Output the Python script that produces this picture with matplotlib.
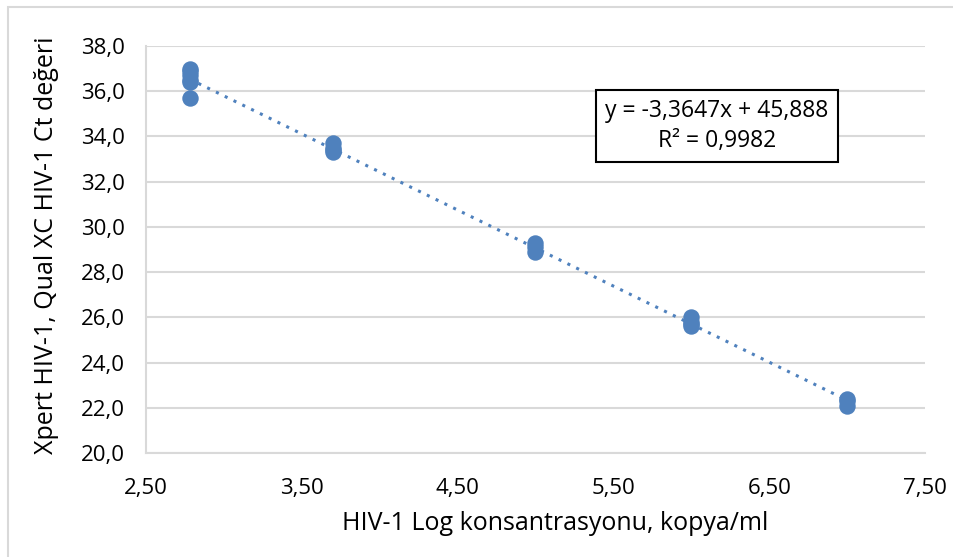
import matplotlib.pyplot as plt
from matplotlib.patches import Rectangle
from matplotlib.ticker import FuncFormatter, MultipleLocator

plt.rcParams['font.family'] = ['Open Sans', 'DejaVu Sans']

# log concentration levels and the Ct values read at each level
log_conc = [2.78] * 6 + [3.70] * 4 + [5.00] * 3 + [6.00] * 4 + [7.00] * 3
ct_values = [37.0, 36.9, 36.7, 36.5, 36.4, 35.7,
             33.7, 33.5, 33.4, 33.3,
             29.3, 29.1, 28.9,
             26.0, 25.8, 25.7, 25.6,
             22.4, 22.3, 22.1]
x_ticks = [2.5, 3.5, 4.5, 5.5, 6.5, 7.5]

slope = -3.3647
intercept = 45.888
r_squared = 0.9982

blue = '#4f81bd'
grid_gray = '#d9d9d9'

fig = plt.figure(figsize=(9.54, 5.57), dpi=100)
ax = fig.add_axes([146 / 954, 1 - 453 / 557, (925 - 146) / 954, (453 - 46) / 557])

# trendline over the data range
x0, x1 = min(log_conc), max(log_conc)
ax.plot([x0, x1], [slope * x0 + intercept, slope * x1 + intercept],
        color=blue, linestyle=(0, (1, 2.2)), linewidth=2.2, zorder=2)
ax.scatter(log_conc, ct_values, s=140, color=blue, zorder=3, linewidths=0)

ax.set_xlim(2.5, 7.5)
ax.set_ylim(20, 38)
ax.set_xticks(x_ticks)
ax.yaxis.set_major_locator(MultipleLocator(2.0))
ax.xaxis.set_major_formatter(FuncFormatter(lambda v, p: f"{v:.2f}".replace('.', ',')))
ax.yaxis.set_major_formatter(FuncFormatter(lambda v, p: f"{v:.1f}".replace('.', ',')))

ax.grid(axis='y', color=grid_gray, linewidth=1.5)
ax.set_axisbelow(True)
for side in ['top', 'right']:
    ax.spines[side].set_visible(False)
for side in ['left', 'bottom']:
    ax.spines[side].set_color(grid_gray)
    ax.spines[side].set_linewidth(1.5)
ax.tick_params(length=0, labelsize=16, colors='black')
ax.tick_params(axis='y', pad=15)
ax.tick_params(axis='x', pad=18)

ax.set_xlabel('HIV-1 Log konsantrasyonu, kopya/ml', fontsize=18)
ax.set_ylabel('Xpert HIV-1, Qual XC HIV-1 Ct değeri', fontsize=18)
ax.xaxis.set_label_coords((555 - 146) / 779, -(523 - 453) / 407)
ax.yaxis.set_label_coords(-(146 - 47) / 779, (453 - 245) / 407)
ax.xaxis.label.set_va('center')
ax.yaxis.label.set_va('center')

eq_text = f"y = {slope:.4f}x + {intercept:.3f}".replace('.', ',') + "\n" + \
    f"R² = {r_squared:.4f}".replace('.', ',')
ax.text((717 - 146) / 779, (453 - 126) / 407, eq_text, transform=ax.transAxes,
        ha='center', va='center', fontsize=16.5, linespacing=1.3,
        bbox=dict(boxstyle='square,pad=0.4', facecolor='white', edgecolor='black', linewidth=1.5))

# chart area border
fig.patches.append(Rectangle((8 / 954, -0.1), 1.2, 1 - 7 / 557 + 0.1,
                             transform=fig.transFigure, fill=False,
                             edgecolor=grid_gray, linewidth=1.5))

fig.savefig('out.png', dpi=100)
